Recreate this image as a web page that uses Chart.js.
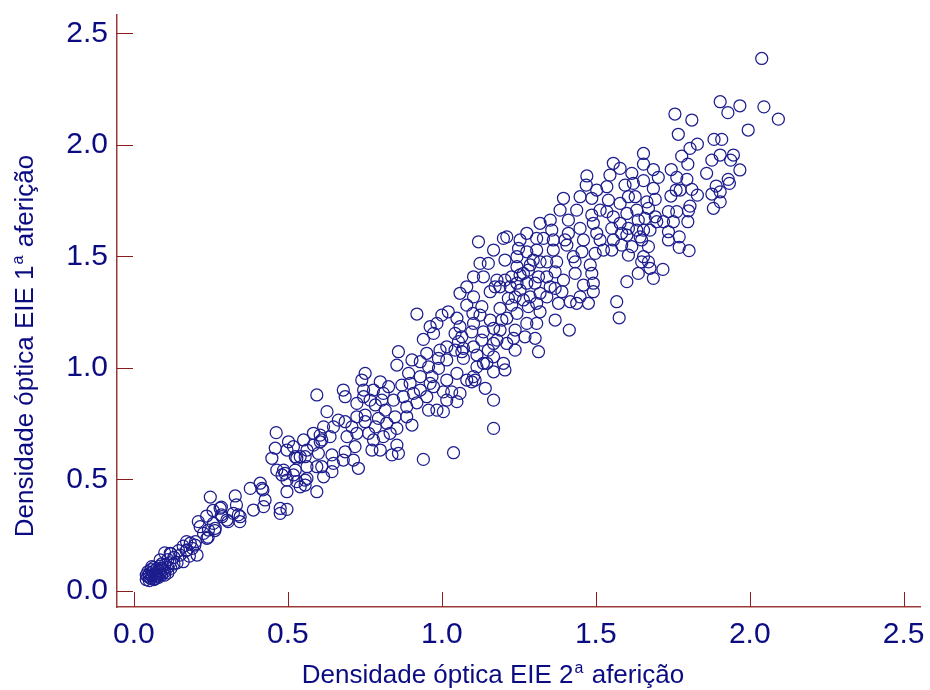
<!DOCTYPE html>
<html>
<head>
<meta charset="utf-8">
<script src="https://cdn.jsdelivr.net/npm/chart.js@4/dist/chart.umd.min.js"></script>
<style>
html,body{margin:0;padding:0;background:#ffffff;}
#wrap{width:930px;height:690px;}
</style>
</head>
<body>
<div id="wrap"><canvas id="c" width="930" height="690"></canvas></div>
<script>
// Eixo X: Densidade óptica EIE 2ª aferição ; Eixo Y: Densidade óptica EIE 1ª aferição
const xTitleParts = ["Densidade óptica EIE 2", "a", " aferição"];
const yTitleParts = ["Densidade óptica EIE 1", "a", " aferição"];
const xTicks = [0.0, 0.5, 1.0, 1.5, 2.0, 2.5];
const yTicks = [0.0, 0.5, 1.0, 1.5, 2.0, 2.5];

// 2ª aferição (x)
const densidade2 = [
0.04,0.045,0.05,0.05,0.055,0.06,0.06,0.065,0.07,0.07,
0.075,0.08,0.08,0.085,0.09,0.045,0.055,0.065,0.075,0.09,
0.1,0.1,0.05,0.06,0.07,0.04,0.085,0.095,
0.10,0.145,0.117,0.16,0.171,0.198,0.209,0.236,0.257,0.284,
0.263,0.241,0.306,0.284,0.333,0.344,0.339,0.11,0.13,0.12,
0.14,0.09,0.11,0.13,0.15,0.17,0.16,0.19,0.2,0.18,
0.183,0.205,0.237,0.242,0.264,0.286,0.28,0.248,0.329,0.378,
0.41,0.419,0.426,0.421,0.388,0.345,0.416,0.475,0.475,0.497,
0.462,0.502,0.459,0.448,0.497,0.529,0.556,0.583,0.599,0.464,
0.486,0.481,0.524,0.529,0.562,0.562,0.556,0.497,0.594,0.491,
0.518,0.61,0.648,0.643,0.686,0.68,0.713,0.718,0.729,0.524,
0.594,0.686,0.724,0.627,0.664,0.686,0.708,0.724,0.616,0.605,
0.637,0.605,0.562,0.61,0.643,0.68,
0.751,0.74,0.8,0.827,0.875,0.843,0.805,0.746,0.746,0.784,
0.816,0.751,0.794,0.848,0.886,0.903,0.854,0.784,0.751,0.81,
0.778,0.773,0.8,0.854,0.859,0.838,0.94,1.038,0.854,0.859,
0.903,0.93,0.892,0.87,0.908,0.919,0.957,0.989,0.968,0.93,
0.973,1.005,1.032,1.059,1.049,1.016,0.984,0.957,1.005,1.168,
1.168,1.141,1.097,1.103,1.049,1.114,1.168,1.07,0.989,0.951,
1.081,1.13,1.101,1.049,1.021,1.0,0.919,1.103,1.168,1.135,
1.097,1.065,1.043,0.962,0.973,0.94,1.13,1.103,1.151,1.054,
1.07,1.016,0.994,1.2,1.205,
1.227,1.238,1.222,1.244,1.205,1.227,1.189,1.157,1.173,1.244,
1.244,1.205,1.249,1.276,1.287,1.319,1.314,1.254,1.281,1.2,
1.211,1.119,1.124,1.151,1.103,1.081,1.233,1.303,1.276,1.254,
1.287,1.265,1.281,1.244,1.211,1.189,1.238,1.238,1.303,1.314,
1.319,1.308,1.341,1.319,1.368,1.414,1.379,1.39,1.368,1.395,
1.368,1.341,1.373,1.308,1.308,1.33,1.357,1.362,1.4,1.411,
1.406,1.455,1.433,1.433,1.46,1.417,1.438,1.449,1.476,1.492,
1.492,1.487,1.482,1.498,1.525,1.568,1.576,1.601,1.638,1.676,
1.687,1.671,1.655,1.606,1.617,1.584,1.552,1.514,1.671,1.449,
1.411,1.395,1.449,1.487,1.487,1.492,1.514,1.536,1.552,1.579,
1.606,1.601,1.633,1.655,1.676,1.601,1.638,1.66,1.698,1.671,
1.666,1.606,1.628,1.687,1.655,1.622,1.595,1.469,1.471,1.546,
1.579,1.655,1.655,
2.039,1.904,1.968,1.929,2.046,2.093,1.995,1.757,1.812,1.768,
1.884,1.909,1.83,1.806,1.779,1.877,1.904,1.947,1.938,1.799,
1.687,1.745,1.86,1.968,1.703,1.763,1.796,1.93,1.934,1.774,
1.812,1.891,1.904,1.877,1.744,1.83,1.693,1.904,1.806,1.882,
1.736,1.763,1.801,1.693,1.72,1.752,1.736,1.799,1.771,1.771,
1.803,1.718,
1.195,1.065,1.135,1.108,1.168,1.265,1.297,1.362,1.352,1.341,
1.216,1.276,1.308,1.189,1.168,1.211,1.27,1.427,1.46,1.503,
1.557,1.584,1.644,1.557,1.633,1.541,1.579,1.503,1.536,1.617,
1.557,1.352,1.384,1.438,1.319,1.276,1.254,1.168,1.179,1.135,
1.103,1.059,0.54,0.692,0.762,0.821,0.832,0.886,0.93,0.951,
0.897,0.81,0.778,0.767,0.724,0.962,1.016,1.081,1.146,1.016,
1.043,1.114,1.179,1.124,1.157,1.059,0.984,0.648,0.583,0.551,
0.518,0.594,0.616,0.556,0.497,0.54,0.215,0.226,0.258,0.302,
0.323,0.172,0.118,0.085,0.058,0.1,0.11,0.12,1.761,1.649,
1.649,1.736
];

// 1ª aferição (y)
const densidade1 = [
0.05,0.065,0.045,0.075,0.055,0.065,0.085,0.05,0.075,0.055,
0.065,0.06,0.09,0.075,0.07,0.085,0.095,0.105,0.1,0.1,
0.085,0.115,0.06,0.07,0.065,0.07,0.11,0.095,
0.17,0.18,0.125,0.13,0.22,0.205,0.31,0.335,0.36,0.34,
0.27,0.24,0.31,0.375,0.385,0.31,0.34,0.14,0.15,0.165,
0.125,0.12,0.105,0.12,0.16,0.18,0.2,0.19,0.22,0.155,
0.213,0.16,0.235,0.272,0.28,0.332,0.37,0.42,0.425,0.459,
0.482,0.452,0.407,0.377,0.362,0.332,0.459,0.369,0.347,0.365,
0.709,0.668,0.639,0.594,0.631,0.594,0.601,0.653,0.616,0.541,
0.541,0.519,0.541,0.489,0.556,0.504,0.474,0.444,0.444,0.526,
0.519,0.556,0.571,0.534,0.623,0.586,0.586,0.646,0.549,0.601,
0.878,0.87,0.84,0.803,0.765,0.758,0.735,0.706,0.735,0.698,
0.691,0.668,0.631,0.676,0.609,0.9,
0.975,0.945,0.937,0.915,0.87,0.855,0.855,0.9,0.87,0.833,
0.81,0.788,0.773,0.78,0.78,0.743,0.728,0.735,0.758,0.691,
0.676,0.631,0.631,0.653,0.616,0.609,0.589,0.619,1.012,1.072,
1.035,1.027,0.975,0.922,0.885,0.843,1.004,0.997,0.96,0.96,
0.915,0.892,0.892,0.885,0.848,0.855,0.81,0.81,0.803,0.728,
0.855,0.908,0.937,0.96,0.975,1.004,0.982,1.042,1.042,1.065,
1.281,1.274,1.244,1.222,1.251,1.236,1.241,1.199,1.177,1.161,
1.161,1.139,1.154,1.184,1.154,1.127,1.124,1.094,1.079,1.117,
1.087,1.094,1.079,1.02,0.99,
1.281,1.318,1.363,1.379,1.393,1.408,1.363,1.341,1.363,1.453,
1.498,1.483,1.535,1.52,1.461,1.475,1.408,1.416,1.438,1.58,
1.587,1.565,1.468,1.468,1.408,1.363,1.132,1.379,1.379,1.348,
1.318,1.304,1.274,1.244,1.222,1.266,1.169,1.079,1.132,1.072,
1.251,1.289,1.318,1.334,1.214,1.169,1.289,1.341,1.356,1.393,
1.43,1.475,1.475,1.528,1.58,1.58,1.617,1.573,1.573,1.603,
1.55,1.52,1.475,1.423,1.371,1.296,1.289,1.318,1.289,1.341,
1.379,1.423,1.461,1.513,1.528,1.296,1.224,1.386,1.423,1.446,
1.401,1.475,1.498,1.505,1.543,1.55,1.528,1.573,1.543,1.625,
1.662,1.76,1.767,1.76,1.685,1.648,1.707,1.7,1.625,1.648,
1.625,1.595,1.617,1.617,1.617,1.692,1.662,1.67,1.655,1.715,
1.744,1.767,1.767,1.804,1.839,1.827,1.819,1.819,1.86,1.864,
1.894,1.913,1.961,
2.387,2.193,2.175,2.144,2.17,2.115,2.066,2.138,2.111,2.047,
2.024,2.024,2.003,1.984,1.949,1.931,1.954,1.954,1.931,1.913,
1.889,1.889,1.872,1.887,1.854,1.854,1.845,1.845,1.827,1.797,
1.8,1.815,1.789,1.779,1.77,1.774,1.755,1.744,1.725,1.715,
1.7,1.7,1.704,1.677,1.655,1.655,1.61,1.655,1.587,1.54,
1.525,1.441,
1.214,1.072,1.02,0.945,1.049,1.423,1.483,1.528,1.363,1.408,
1.311,1.199,1.199,1.169,1.109,1.109,1.139,1.498,1.573,1.603,
1.573,1.603,1.587,1.677,1.707,1.752,1.737,1.797,1.812,1.872,
1.917,1.662,1.707,1.707,1.648,1.603,1.573,1.528,1.393,1.408,
1.318,1.334,0.601,0.691,0.706,0.751,0.706,0.825,0.9,0.87,
0.93,0.885,0.9,0.855,0.78,0.93,0.945,0.945,1.02,1.035,
1.079,1.057,1.124,1.236,1.214,1.184,1.199,0.735,0.706,0.676,
0.646,0.556,0.511,0.496,0.496,0.466,0.287,0.257,0.302,0.317,
0.347,0.183,0.168,0.138,0.108,0.07,0.08,0.1,1.797,1.573,
1.475,1.573
];

const TEXT_COLOR = '#0c0c82';
const POINT_COLOR = '#1d1d8e';
const AXIS_COLOR = '#9c3a3a';
const TICK_COLOR = '#8e1c1c';
const FONT_FAMILY = '"Liberation Sans", Arial, Helvetica, sans-serif';

const n = Math.min(densidade2.length, densidade1.length);
const pontos = [];
for (let i = 0; i < n; i++) pontos.push({x: densidade2[i], y: densidade1[i]});

function drawTitle(ctx, parts, cx, cy, angle) {
  ctx.save();
  ctx.translate(cx, cy);
  ctx.rotate(angle);
  ctx.fillStyle = TEXT_COLOR;
  ctx.textBaseline = 'alphabetic';
  ctx.textAlign = 'left';
  const fMain = '26px ' + FONT_FAMILY, fSup = '16px ' + FONT_FAMILY;
  ctx.font = fMain;
  const w0 = ctx.measureText(parts[0]).width, w2 = ctx.measureText(parts[2]).width;
  ctx.font = fSup;
  const w1 = ctx.measureText(parts[1]).width;
  let p = -(w0 + w1 + 2 + w2) / 2;
  ctx.font = fMain; ctx.fillText(parts[0], p, 0); p += w0 + 1;
  ctx.font = fSup; ctx.fillText(parts[1], p, -10); p += w1 + 1;
  ctx.font = fMain; ctx.fillText(parts[2], p, 0);
  ctx.restore();
}

const axisDecor = {
  id: 'axisDecor',
  beforeDatasetsDraw(chart) {
    const {ctx, chartArea: a, scales: {x, y}} = chart;
    ctx.save();
    ctx.strokeStyle = TICK_COLOR;
    ctx.lineWidth = 1;
    ctx.beginPath();
    xTicks.forEach(v => {
      const px = Math.round(x.getPixelForValue(v)) + 0.5;
      ctx.moveTo(px, a.bottom); ctx.lineTo(px, a.bottom - 15);
    });
    yTicks.forEach(v => {
      const py = Math.round(y.getPixelForValue(v)) + 0.5;
      ctx.moveTo(a.left, py); ctx.lineTo(a.left + 16, py);
    });
    ctx.stroke();
    ctx.restore();
  },
  afterDraw(chart) {
    const ctx = chart.ctx;
    drawTitle(ctx, xTitleParts, 493, 683, 0);
    drawTitle(ctx, yTitleParts, 33, 346, -Math.PI / 2);
  }
};

function noPad(s) {
  s.paddingLeft = 0; s.paddingRight = 0; s.paddingTop = 0; s.paddingBottom = 0;
}

new Chart(document.getElementById('c'), {
  type: 'scatter',
  data: {
    datasets: [{
      data: pontos,
      pointRadius: 6,
      pointHoverRadius: 6,
      borderWidth: 1.25,
      borderColor: POINT_COLOR,
      backgroundColor: 'rgba(0,0,0,0)',
      pointStyle: 'circle'
    }]
  },
  options: {
    responsive: false,
    animation: false,
    events: [],
    layout: {padding: {top: 15, right: 10, left: 0, bottom: 0}},
    plugins: {legend: {display: false}, tooltip: {enabled: false}},
    scales: {
      x: {
        type: 'linear', position: 'bottom',
        min: -0.055, max: 2.553,
        afterBuildTicks: s => { s.ticks = xTicks.map(v => ({value: v})); },
        afterFit: s => { s.height = 83; noPad(s); },
        ticks: {
          callback: v => Number(v).toFixed(1),
          font: {size: 30, family: FONT_FAMILY},
          color: TEXT_COLOR, padding: 10, maxRotation: 0, autoSkip: false
        },
        grid: {display: false, drawTicks: false},
        border: {display: true, color: AXIS_COLOR, width: 1.5},
        title: {display: false}
      },
      y: {
        type: 'linear', position: 'left',
        min: -0.073, max: 2.582,
        afterBuildTicks: s => { s.ticks = yTicks.map(v => ({value: v})); },
        afterFit: s => { s.width = 117; noPad(s); },
        ticks: {
          callback: v => Number(v).toFixed(1),
          font: {size: 30, family: FONT_FAMILY},
          color: TEXT_COLOR, padding: 9, autoSkip: false
        },
        grid: {display: false, drawTicks: false},
        border: {display: true, color: AXIS_COLOR, width: 1.5},
        title: {display: false}
      }
    }
  },
  plugins: [axisDecor]
});
</script>
</body>
</html>
